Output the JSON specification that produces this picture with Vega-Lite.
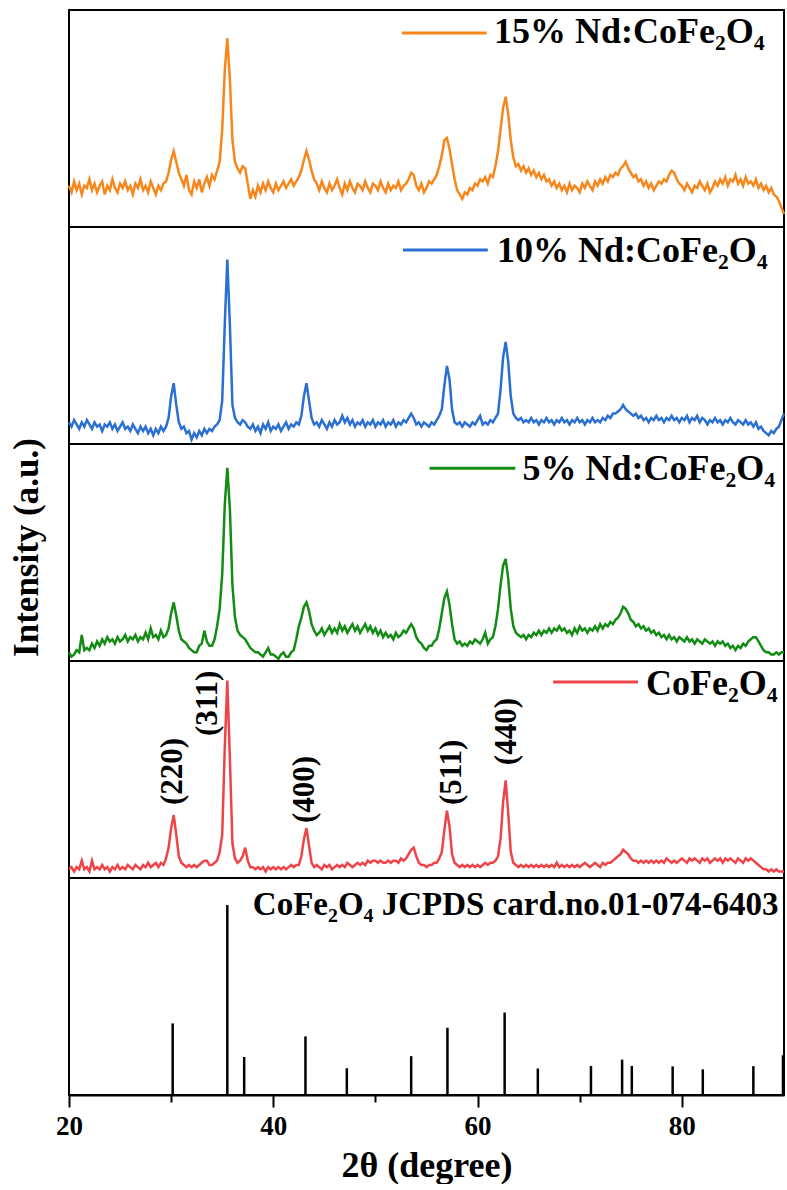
{
"$schema": "https://vega.github.io/schema/vega-lite/v6.json",
"background": "white",
"padding": {"left": 7, "top": 9, "right": 0, "bottom": 0},
"spacing": 0,
"bounds": "flush",
"config": {"view": {"stroke": "black", "strokeWidth": 2}, "font": "Liberation Serif"},
"datasets": {
"xrd": [
{"x":20,"o":19,"b":10,"g":4,"r":4},{"x":20.25,"o":16,"b":8,"g":2,"r":5},{"x":20.5,"o":21,"b":11,"g":3,"r":3},{"x":20.75,"o":17,"b":9,"g":5,"r":5},
{"x":21,"o":20,"b":7,"g":4,"r":4},{"x":21.25,"o":15,"b":10,"g":12,"r":8},{"x":21.5,"o":19,"b":8,"g":5,"r":4},{"x":21.75,"o":18,"b":11,"g":6,"r":5},
{"x":22,"o":22,"b":9,"g":5,"r":3},{"x":22.25,"o":17,"b":7,"g":8,"r":8},{"x":22.5,"o":20,"b":10,"g":6,"r":4},{"x":22.75,"o":16,"b":8,"g":9,"r":5},
{"x":23,"o":19,"b":9,"g":7,"r":4},{"x":23.25,"o":21,"b":6,"g":10,"r":6},{"x":23.5,"o":15,"b":9,"g":8,"r":4},{"x":23.75,"o":19,"b":8,"g":11,"r":5},
{"x":24,"o":17,"b":10,"g":9,"r":3},{"x":24.25,"o":22,"b":7,"g":10,"r":5},{"x":24.5,"o":18,"b":9,"g":8,"r":4},{"x":24.75,"o":16,"b":6,"g":11,"r":6},
{"x":25,"o":20,"b":8,"g":9,"r":4},{"x":25.25,"o":18,"b":10,"g":10,"r":5},{"x":25.5,"o":21,"b":7,"g":12,"r":4},{"x":25.75,"o":17,"b":8,"g":9,"r":6},
{"x":26,"o":19,"b":6,"g":11,"r":5},{"x":26.25,"o":15,"b":9,"g":10,"r":4},{"x":26.5,"o":20,"b":7,"g":12,"r":6},{"x":26.75,"o":18,"b":5,"g":9,"r":5},
{"x":27,"o":22,"b":8,"g":11,"r":4},{"x":27.25,"o":17,"b":6,"g":10,"r":6},{"x":27.5,"o":19,"b":8,"g":13,"r":5},{"x":27.75,"o":16,"b":5,"g":10,"r":7},
{"x":28,"o":21,"b":7,"g":15,"r":5},{"x":28.25,"o":18,"b":4,"g":11,"r":6},{"x":28.5,"o":15,"b":7,"g":12,"r":7},{"x":28.75,"o":19,"b":5,"g":10,"r":5},
{"x":29,"o":17,"b":8,"g":14,"r":7},{"x":29.25,"o":20,"b":6,"g":11,"r":6},{"x":29.5,"o":21,"b":8,"g":12,"r":9},{"x":29.75,"o":25,"b":12,"g":15,"r":14},
{"x":30,"o":31,"b":22,"g":22,"r":23},{"x":30.25,"o":35,"b":28,"g":27,"r":29},{"x":30.5,"o":30,"b":18,"g":21,"r":20},{"x":30.75,"o":25,"b":10,"g":14,"r":10},
{"x":31,"o":22,"b":7,"g":10,"r":7},{"x":31.25,"o":19,"b":8,"g":9,"r":6},{"x":31.5,"o":24,"b":5,"g":8,"r":5},{"x":31.75,"o":17,"b":6,"g":6,"r":6},
{"x":32,"o":15,"b":2,"g":5,"r":5},{"x":32.25,"o":21,"b":5,"g":4,"r":6},{"x":32.5,"o":18,"b":3,"g":4,"r":5},{"x":32.75,"o":22,"b":6,"g":7,"r":6},
{"x":33,"o":16,"b":4,"g":8,"r":7},{"x":33.25,"o":20,"b":7,"g":14,"r":8},{"x":33.5,"o":23,"b":5,"g":9,"r":8},{"x":33.75,"o":19,"b":7,"g":7,"r":6},
{"x":34,"o":24,"b":6,"g":7,"r":6},{"x":34.25,"o":22,"b":8,"g":10,"r":7},{"x":34.5,"o":26,"b":9,"g":16,"r":8},{"x":34.75,"o":30,"b":11,"g":24,"r":12},
{"x":35,"o":45,"b":20,"g":40,"r":20},{"x":35.25,"o":72,"b":55,"g":72,"r":60},{"x":35.5,"o":87,"b":85,"g":89,"r":91},{"x":35.75,"o":68,"b":55,"g":70,"r":55},
{"x":36,"o":40,"b":18,"g":35,"r":16},{"x":36.25,"o":30,"b":12,"g":20,"r":9},{"x":36.5,"o":27,"b":10,"g":14,"r":7},{"x":36.75,"o":25,"b":9,"g":12,"r":8},
{"x":37,"o":28,"b":11,"g":11,"r":10},{"x":37.25,"o":27,"b":10,"g":10,"r":14},{"x":37.5,"o":20,"b":8,"g":8,"r":8},{"x":37.75,"o":13,"b":7,"g":6,"r":5},
{"x":38,"o":17,"b":9,"g":5,"r":5},{"x":38.25,"o":14,"b":6,"g":4,"r":4},{"x":38.5,"o":19,"b":8,"g":4,"r":5},{"x":38.75,"o":16,"b":5,"g":3,"r":4},
{"x":39,"o":20,"b":9,"g":2,"r":5},{"x":39.25,"o":17,"b":7,"g":4,"r":3},{"x":39.5,"o":21,"b":10,"g":6,"r":5},{"x":39.75,"o":18,"b":6,"g":3,"r":4},
{"x":40,"o":16,"b":8,"g":3,"r":5},{"x":40.25,"o":20,"b":7,"g":2,"r":4},{"x":40.5,"o":17,"b":9,"g":1,"r":5},{"x":40.75,"o":19,"b":6,"g":3,"r":4},
{"x":41,"o":21,"b":8,"g":4,"r":5},{"x":41.25,"o":18,"b":10,"g":2,"r":4},{"x":41.5,"o":20,"b":7,"g":2,"r":5},{"x":41.75,"o":22,"b":9,"g":4,"r":6},
{"x":42,"o":19,"b":8,"g":5,"r":5},{"x":42.25,"o":21,"b":10,"g":10,"r":6},{"x":42.5,"o":23,"b":9,"g":16,"r":6},{"x":42.75,"o":26,"b":13,"g":20,"r":10},
{"x":43,"o":31,"b":22,"g":25,"r":18},{"x":43.25,"o":35,"b":28,"g":27,"r":23},{"x":43.5,"o":31,"b":20,"g":23,"r":15},{"x":43.75,"o":26,"b":12,"g":17,"r":7},
{"x":44,"o":22,"b":9,"g":14,"r":5},{"x":44.25,"o":20,"b":10,"g":12,"r":6},{"x":44.5,"o":17,"b":8,"g":13,"r":5},{"x":44.75,"o":21,"b":11,"g":15,"r":4},
{"x":45,"o":18,"b":9,"g":12,"r":6},{"x":45.25,"o":16,"b":7,"g":14,"r":5},{"x":45.5,"o":20,"b":10,"g":16,"r":6},{"x":45.75,"o":17,"b":8,"g":13,"r":4},
{"x":46,"o":19,"b":11,"g":15,"r":5},{"x":46.25,"o":22,"b":9,"g":13,"r":6},{"x":46.5,"o":18,"b":10,"g":17,"r":5},{"x":46.75,"o":15,"b":13,"g":14,"r":6},
{"x":47,"o":20,"b":10,"g":16,"r":5},{"x":47.25,"o":17,"b":12,"g":13,"r":7},{"x":47.5,"o":21,"b":9,"g":15,"r":6},{"x":47.75,"o":18,"b":11,"g":17,"r":5},
{"x":48,"o":16,"b":8,"g":14,"r":6},{"x":48.25,"o":20,"b":10,"g":16,"r":7},{"x":48.5,"o":19,"b":9,"g":13,"r":6},{"x":48.75,"o":17,"b":11,"g":15,"r":7},
{"x":49,"o":21,"b":8,"g":17,"r":6},{"x":49.25,"o":18,"b":10,"g":14,"r":8},{"x":49.5,"o":16,"b":9,"g":16,"r":7},{"x":49.75,"o":20,"b":11,"g":13,"r":8},
{"x":50,"o":19,"b":8,"g":15,"r":8},{"x":50.25,"o":17,"b":10,"g":12,"r":7},{"x":50.5,"o":21,"b":9,"g":14,"r":8},{"x":50.75,"o":18,"b":11,"g":11,"r":7},
{"x":51,"o":16,"b":8,"g":13,"r":7},{"x":51.25,"o":20,"b":10,"g":11,"r":8},{"x":51.5,"o":17,"b":9,"g":12,"r":7},{"x":51.75,"o":19,"b":11,"g":10,"r":8},
{"x":52,"o":18,"b":8,"g":13,"r":8},{"x":52.25,"o":21,"b":10,"g":11,"r":7},{"x":52.5,"o":17,"b":9,"g":12,"r":9},{"x":52.75,"o":19,"b":11,"g":14,"r":8},
{"x":53,"o":20,"b":10,"g":13,"r":9},{"x":53.25,"o":22,"b":12,"g":15,"r":11},{"x":53.5,"o":25,"b":14,"g":17,"r":13},{"x":53.75,"o":24,"b":12,"g":15,"r":14},
{"x":54,"o":19,"b":9,"g":11,"r":10},{"x":54.25,"o":17,"b":10,"g":9,"r":7},{"x":54.5,"o":20,"b":8,"g":8,"r":6},{"x":54.75,"o":16,"b":10,"g":6,"r":6},
{"x":55,"o":18,"b":9,"g":5,"r":5},{"x":55.25,"o":21,"b":8,"g":7,"r":6},{"x":55.5,"o":20,"b":10,"g":7,"r":6},{"x":55.75,"o":22,"b":9,"g":9,"r":7},
{"x":56,"o":24,"b":11,"g":10,"r":7},{"x":56.25,"o":28,"b":13,"g":15,"r":9},{"x":56.5,"o":33,"b":16,"g":22,"r":12},{"x":56.75,"o":40,"b":27,"g":29,"r":22},
{"x":57,"o":41,"b":36,"g":32,"r":31},{"x":57.25,"o":36,"b":30,"g":26,"r":24},{"x":57.5,"o":29,"b":16,"g":17,"r":11},{"x":57.75,"o":22,"b":10,"g":10,"r":7},
{"x":58,"o":17,"b":9,"g":8,"r":6},{"x":58.25,"o":15,"b":10,"g":9,"r":5},{"x":58.5,"o":13,"b":8,"g":7,"r":6},{"x":58.75,"o":16,"b":10,"g":8,"r":5},
{"x":59,"o":15,"b":9,"g":7,"r":6},{"x":59.25,"o":18,"b":8,"g":9,"r":5},{"x":59.5,"o":17,"b":10,"g":8,"r":6},{"x":59.75,"o":20,"b":9,"g":10,"r":5},
{"x":60,"o":19,"b":11,"g":9,"r":6},{"x":60.25,"o":22,"b":13,"g":8,"r":5},{"x":60.5,"o":21,"b":9,"g":10,"r":6},{"x":60.75,"o":23,"b":10,"g":13,"r":7},
{"x":61,"o":20,"b":9,"g":8,"r":6},{"x":61.25,"o":24,"b":11,"g":10,"r":7},{"x":61.5,"o":23,"b":10,"g":11,"r":7},{"x":61.75,"o":28,"b":12,"g":16,"r":8},
{"x":62,"o":35,"b":14,"g":24,"r":10},{"x":62.25,"o":45,"b":25,"g":35,"r":18},{"x":62.5,"o":55,"b":40,"g":44,"r":35},{"x":62.75,"o":60,"b":47,"g":47,"r":45},
{"x":63,"o":52,"b":38,"g":38,"r":30},{"x":63.25,"o":40,"b":22,"g":24,"r":12},{"x":63.5,"o":32,"b":14,"g":16,"r":7},{"x":63.75,"o":28,"b":12,"g":13,"r":6},
{"x":64,"o":29,"b":11,"g":12,"r":5},{"x":64.25,"o":26,"b":12,"g":11,"r":6},{"x":64.5,"o":28,"b":10,"g":12,"r":5},{"x":64.75,"o":25,"b":11,"g":10,"r":6},
{"x":65,"o":27,"b":10,"g":12,"r":5},{"x":65.25,"o":24,"b":12,"g":11,"r":6},{"x":65.5,"o":26,"b":10,"g":13,"r":5},{"x":65.75,"o":23,"b":11,"g":12,"r":6},
{"x":66,"o":25,"b":9,"g":14,"r":5},{"x":66.25,"o":22,"b":11,"g":12,"r":6},{"x":66.5,"o":24,"b":10,"g":14,"r":5},{"x":66.75,"o":21,"b":12,"g":13,"r":6},
{"x":67,"o":22,"b":10,"g":15,"r":5},{"x":67.25,"o":19,"b":11,"g":13,"r":6},{"x":67.5,"o":21,"b":9,"g":15,"r":5},{"x":67.75,"o":18,"b":11,"g":14,"r":7},
{"x":68,"o":20,"b":10,"g":16,"r":5},{"x":68.25,"o":17,"b":12,"g":14,"r":6},{"x":68.5,"o":19,"b":10,"g":15,"r":5},{"x":68.75,"o":16,"b":11,"g":13,"r":6},
{"x":69,"o":20,"b":9,"g":14,"r":5},{"x":69.25,"o":17,"b":11,"g":12,"r":6},{"x":69.5,"o":19,"b":10,"g":15,"r":5},{"x":69.75,"o":18,"b":12,"g":13,"r":6},
{"x":70,"o":16,"b":10,"g":16,"r":5},{"x":70.25,"o":20,"b":11,"g":14,"r":6},{"x":70.5,"o":18,"b":9,"g":15,"r":7},{"x":70.75,"o":21,"b":11,"g":13,"r":6},
{"x":71,"o":19,"b":10,"g":15,"r":5},{"x":71.25,"o":17,"b":12,"g":14,"r":6},{"x":71.5,"o":21,"b":10,"g":16,"r":7},{"x":71.75,"o":19,"b":11,"g":14,"r":6},
{"x":72,"o":22,"b":10,"g":17,"r":5},{"x":72.25,"o":20,"b":12,"g":15,"r":7},{"x":72.5,"o":23,"b":11,"g":17,"r":6},{"x":72.75,"o":21,"b":13,"g":16,"r":7},
{"x":73,"o":24,"b":12,"g":18,"r":7},{"x":73.25,"o":23,"b":14,"g":17,"r":8},{"x":73.5,"o":25,"b":14,"g":19,"r":9},{"x":73.75,"o":24,"b":15,"g":20,"r":10},
{"x":74,"o":27,"b":16,"g":22,"r":11},{"x":74.25,"o":28,"b":18,"g":25,"r":13},{"x":74.5,"o":30,"b":16,"g":24,"r":12},{"x":74.75,"o":27,"b":15,"g":22,"r":11},
{"x":75,"o":25,"b":14,"g":19,"r":9},{"x":75.25,"o":23,"b":13,"g":18,"r":8},{"x":75.5,"o":24,"b":14,"g":16,"r":8},{"x":75.75,"o":21,"b":12,"g":17,"r":7},
{"x":76,"o":22,"b":13,"g":15,"r":8},{"x":76.25,"o":19,"b":11,"g":16,"r":7},{"x":76.5,"o":21,"b":12,"g":14,"r":8},{"x":76.75,"o":18,"b":10,"g":15,"r":7},
{"x":77,"o":20,"b":12,"g":13,"r":8},{"x":77.25,"o":17,"b":11,"g":14,"r":7},{"x":77.5,"o":19,"b":13,"g":12,"r":8},{"x":77.75,"o":21,"b":11,"g":13,"r":7},
{"x":78,"o":20,"b":12,"g":11,"r":8},{"x":78.25,"o":22,"b":10,"g":12,"r":7},{"x":78.5,"o":21,"b":12,"g":10,"r":9},{"x":78.75,"o":24,"b":11,"g":12,"r":8},
{"x":79,"o":26,"b":13,"g":10,"r":7},{"x":79.25,"o":25,"b":11,"g":11,"r":8},{"x":79.5,"o":22,"b":12,"g":9,"r":7},{"x":79.75,"o":20,"b":10,"g":11,"r":8},
{"x":80,"o":19,"b":12,"g":10,"r":9},{"x":80.25,"o":17,"b":11,"g":9,"r":8},{"x":80.5,"o":20,"b":13,"g":11,"r":7},{"x":80.75,"o":18,"b":10,"g":9,"r":9},
{"x":81,"o":16,"b":12,"g":10,"r":8},{"x":81.25,"o":19,"b":11,"g":8,"r":9},{"x":81.5,"o":18,"b":13,"g":10,"r":8},{"x":81.75,"o":21,"b":10,"g":9,"r":7},
{"x":82,"o":19,"b":12,"g":8,"r":9},{"x":82.25,"o":17,"b":11,"g":10,"r":8},{"x":82.5,"o":20,"b":9,"g":9,"r":9},{"x":82.75,"o":16,"b":11,"g":8,"r":7},
{"x":83,"o":18,"b":10,"g":9,"r":8},{"x":83.25,"o":21,"b":12,"g":7,"r":9},{"x":83.5,"o":19,"b":10,"g":9,"r":8},{"x":83.75,"o":22,"b":11,"g":8,"r":9},
{"x":84,"o":20,"b":9,"g":9,"r":7},{"x":84.25,"o":23,"b":11,"g":7,"r":9},{"x":84.5,"o":19,"b":10,"g":8,"r":8},{"x":84.75,"o":22,"b":12,"g":6,"r":9},
{"x":85,"o":21,"b":10,"g":7,"r":8},{"x":85.25,"o":24,"b":9,"g":5,"r":7},{"x":85.5,"o":20,"b":11,"g":7,"r":9},{"x":85.75,"o":22,"b":10,"g":6,"r":8},
{"x":86,"o":19,"b":9,"g":8,"r":7},{"x":86.25,"o":23,"b":11,"g":7,"r":9},{"x":86.5,"o":20,"b":9,"g":9,"r":8},{"x":86.75,"o":21,"b":10,"g":10,"r":9},
{"x":87,"o":19,"b":8,"g":11,"r":8},{"x":87.25,"o":22,"b":10,"g":11,"r":7},{"x":87.5,"o":18,"b":7,"g":9,"r":6},{"x":87.75,"o":20,"b":8,"g":7,"r":5},
{"x":88,"o":17,"b":6,"g":5,"r":4},{"x":88.25,"o":19,"b":5,"g":4,"r":4},{"x":88.5,"o":16,"b":4,"g":4,"r":3},{"x":88.75,"o":18,"b":6,"g":3,"r":4},
{"x":89,"o":15,"b":5,"g":3,"r":3},{"x":89.25,"o":14,"b":7,"g":4,"r":4},{"x":89.5,"o":12,"b":8,"g":3,"r":3},{"x":89.75,"o":9,"b":11,"g":4,"r":3},
{"x":90,"o":6,"b":14,"g":4,"r":3}
],
"ref": [
{"x":30.15,"i":33},{"x":35.5,"i":87.5},{"x":37.15,"i":17.5},{"x":43.15,"i":27},{"x":47.2,"i":12.3},{"x":53.5,"i":17.9},{"x":57.05,"i":31},{"x":62.65,"i":38},{"x":65.9,"i":12.2},{"x":71.1,"i":13.4},{"x":74.15,"i":16.3},{"x":75.1,"i":13.4},{"x":79.1,"i":13.2},{"x":82.05,"i":11.8},{"x":87.0,"i":13.3},{"x":89.9,"i":18.3}
],
"hkl": [
{"x":30.2,"y":33.6,"t":"(220)"},{"x":33.65,"y":65.4,"t":"(311)"},{"x":43.1,"y":25.3,"t":"(400)"},{"x":57.5,"y":33.6,"t":"(511)"},{"x":62.9,"y":52,"t":"(440)"}
]
},
"vconcat": [
{
"width": 715, "height": 217,
"layer": [
{"data": {"name": "xrd"}, "mark": {"type": "line", "color": "#F7871C", "strokeWidth": 2.5},
 "encoding": {"x": {"field": "x", "type": "quantitative", "scale": {"domain": [20, 90], "nice": false, "zero": false}, "axis": null},
  "y": {"field": "o", "type": "quantitative", "scale": {"domain": [0, 100], "nice": false}, "axis": null}}},
{"data": {"values": [{}]}, "mark": {"type": "rule", "color": "#F7871C", "strokeWidth": 3},
 "encoding": {"x": {"datum": 52.6}, "x2": {"datum": 60.9}, "y": {"datum": 89.4}}},
{"data": {"values": [{}]}, "mark": {"type": "text", "text": "15% Nd:CoFe₂O₄", "font": "Liberation Serif", "fontWeight": "bold", "fontSize": 36, "align": "left", "baseline": "alphabetic", "color": "black"},
 "encoding": {"x": {"datum": 61.6}, "y": {"datum": 84.8}}}
]
},
{
"width": 715, "height": 217,
"layer": [
{"data": {"name": "xrd"}, "mark": {"type": "line", "color": "#2A6FD1", "strokeWidth": 2.5},
 "encoding": {"x": {"field": "x", "type": "quantitative", "scale": {"domain": [20, 90], "nice": false, "zero": false}, "axis": null},
  "y": {"field": "b", "type": "quantitative", "scale": {"domain": [0, 100], "nice": false}, "axis": null}}},
{"data": {"values": [{}]}, "mark": {"type": "rule", "color": "#2A6FD1", "strokeWidth": 3},
 "encoding": {"x": {"datum": 52.7}, "x2": {"datum": 61.0}, "y": {"datum": 89.4}}},
{"data": {"values": [{}]}, "mark": {"type": "text", "text": "10% Nd:CoFe₂O₄", "font": "Liberation Serif", "fontWeight": "bold", "fontSize": 36, "align": "left", "baseline": "alphabetic", "color": "black"},
 "encoding": {"x": {"datum": 61.9}, "y": {"datum": 83.8}}}
]
},
{
"width": 715, "height": 217,
"layer": [
{"data": {"name": "xrd"}, "mark": {"type": "line", "color": "#138C13", "strokeWidth": 2.5},
 "encoding": {"x": {"field": "x", "type": "quantitative", "scale": {"domain": [20, 90], "nice": false, "zero": false}, "axis": null},
  "y": {"field": "g", "type": "quantitative", "scale": {"domain": [0, 100], "nice": false},
   "axis": {"title": "Intensity (a.u.)", "labels": false, "ticks": false, "domain": false, "grid": false,
    "titleFont": "Liberation Serif", "titleFontWeight": "bold", "titleFontSize": 35, "titleColor": "black",
    "titleX": -32, "titleY": 103, "titleBaseline": "alphabetic", "titlePadding": 0}}}},
{"data": {"values": [{}]}, "mark": {"type": "rule", "color": "#138C13", "strokeWidth": 3},
 "encoding": {"x": {"datum": 55.3}, "x2": {"datum": 63.7}, "y": {"datum": 88.8}}},
{"data": {"values": [{}]}, "mark": {"type": "text", "text": "5% Nd:CoFe₂O₄", "font": "Liberation Serif", "fontWeight": "bold", "fontSize": 36, "align": "left", "baseline": "alphabetic", "color": "black"},
 "encoding": {"x": {"datum": 64.4}, "y": {"datum": 83.3}}}
]
},
{
"width": 715, "height": 217,
"layer": [
{"data": {"name": "xrd"}, "mark": {"type": "line", "color": "#EE4448", "strokeWidth": 2.5},
 "encoding": {"x": {"field": "x", "type": "quantitative", "scale": {"domain": [20, 90], "nice": false, "zero": false}, "axis": null},
  "y": {"field": "r", "type": "quantitative", "scale": {"domain": [0, 100], "nice": false}, "axis": null}}},
{"data": {"values": [{}]}, "mark": {"type": "rule", "color": "#EE4448", "strokeWidth": 3},
 "encoding": {"x": {"datum": 67.4}, "x2": {"datum": 75.7}, "y": {"datum": 90.3}}},
{"data": {"values": [{}]}, "mark": {"type": "text", "text": "CoFe₂O₄", "font": "Liberation Serif", "fontWeight": "bold", "fontSize": 36, "align": "left", "baseline": "alphabetic", "color": "black"},
 "encoding": {"x": {"datum": 76.5}, "y": {"datum": 84.3}}},
{"data": {"name": "hkl"}, "mark": {"type": "text", "font": "Liberation Serif", "fontWeight": "bold", "fontSize": 31, "angle": 270, "align": "left", "baseline": "middle", "color": "black"},
 "encoding": {"x": {"field": "x", "type": "quantitative"}, "y": {"field": "y", "type": "quantitative"}, "text": {"field": "t"}}}
]
},
{
"width": 715, "height": 217,
"layer": [
{"data": {"name": "ref"}, "mark": {"type": "rule", "color": "black", "strokeWidth": 2.5},
 "encoding": {"x": {"field": "x", "type": "quantitative", "scale": {"domain": [20, 90], "nice": false, "zero": false},
   "axis": {"values": [20, 30, 40, 50, 60, 70, 80], "labelExpr": "datum.value % 20 === 0 ? datum.label : ''",
    "tickSize": {"condition": {"test": "datum.value % 20 === 0", "value": 12}, "value": 7},
    "tickWidth": 2, "tickColor": "black", "domain": true, "domainColor": "black", "domainWidth": 2, "grid": false,
    "labelFont": "Liberation Serif", "labelFontWeight": "bold", "labelFontSize": 27, "labelColor": "black", "labelPadding": 6, "labelFlush": false,
    "title": "2θ (degree)", "titleFont": "Liberation Serif", "titleFontWeight": "bold", "titleFontSize": 36, "titleColor": "black", "titlePadding": 9}},
  "y": {"field": "i", "type": "quantitative", "scale": {"domain": [0, 100], "nice": false}, "axis": null},
  "y2": {"datum": 0}}},
{"data": {"values": [{}]}, "mark": {"type": "text", "text": "CoFe₂O₄ JCPDS card.no.01-074-6403", "font": "Liberation Serif", "fontWeight": "bold", "fontSize": 33, "align": "left", "baseline": "alphabetic", "color": "black"},
 "encoding": {"x": {"datum": 38.0}, "y": {"datum": 83}}}
]
}
]
}
